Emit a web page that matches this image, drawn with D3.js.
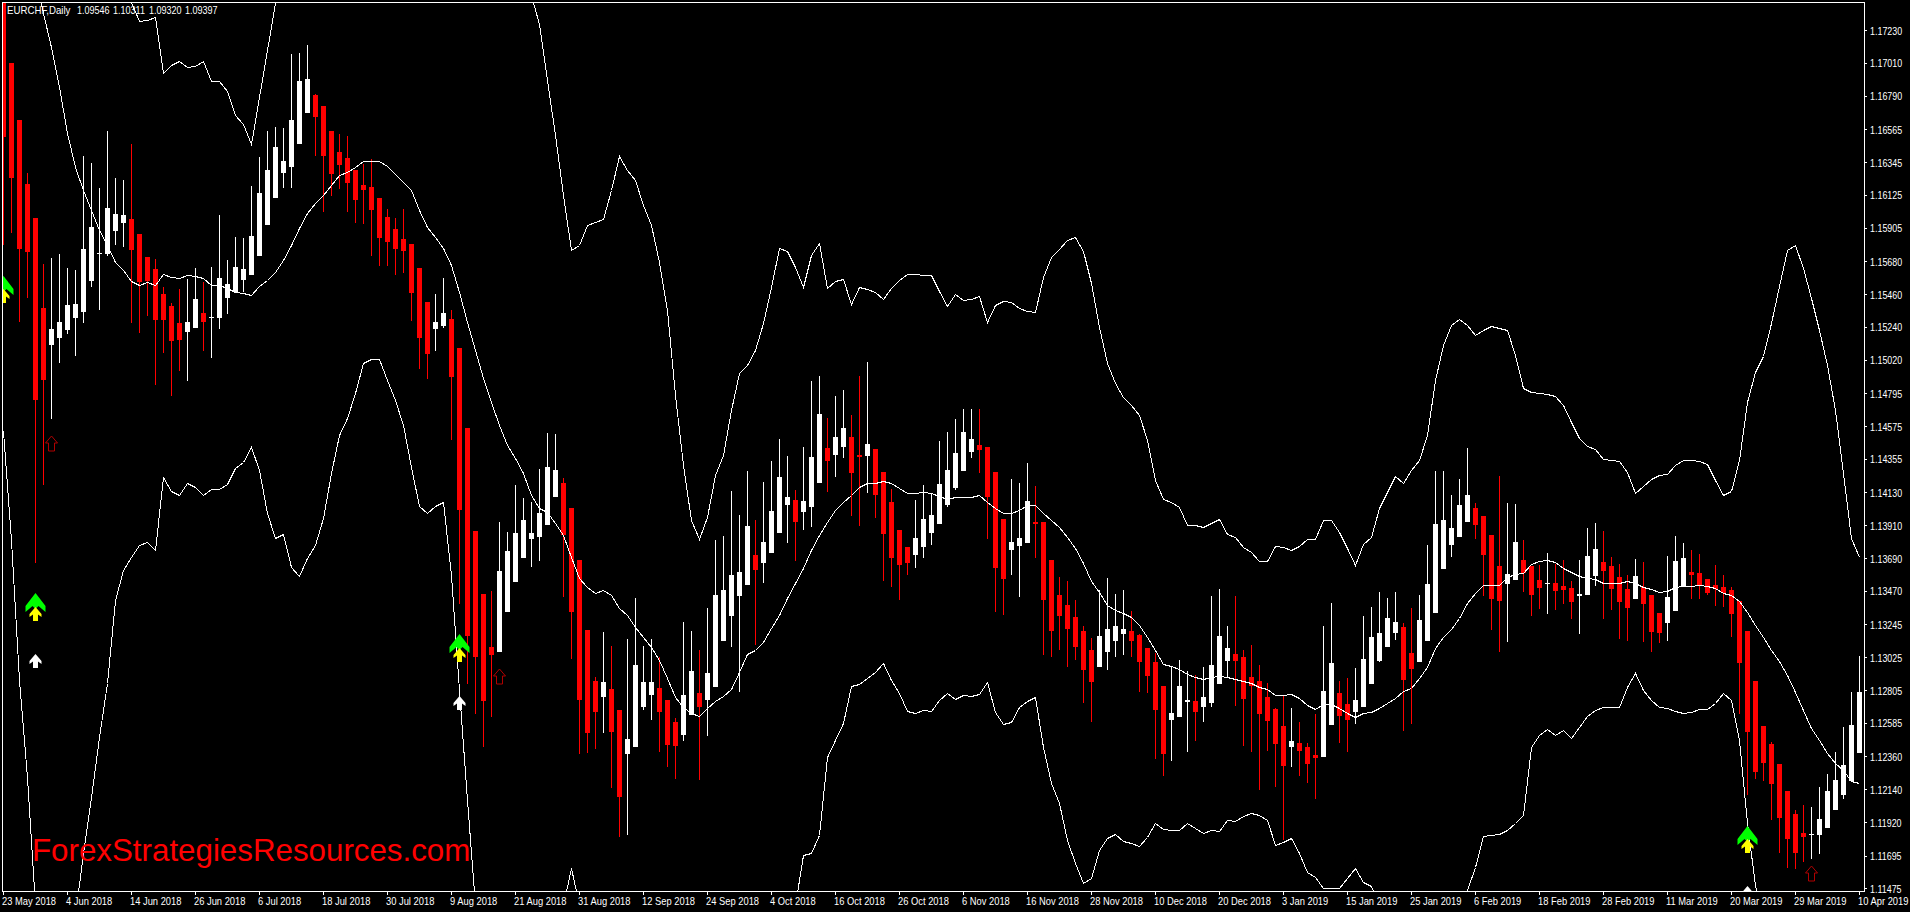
<!DOCTYPE html>
<html>
<head>
<meta charset="utf-8">
<title>EURCHF,Daily</title>
<script src="https://cdn.jsdelivr.net/npm/d3@7"></script>
<style>
    html, body { margin: 0; padding: 0; background: #000; overflow: hidden; }
    svg { display: block; }
    text { font-family: "Liberation Sans", sans-serif; font-size: 11px; fill: #fff; }
</style>
</head>
<body>
<div id="chart"></div>
<script>
// candles, one value per daily bar
const highs = [
    1.17567,1.17011,1.16629,1.16273,1.15972,1.15663,1.15703,1.15730,1.15636,1.15623,
    1.16387,1.16340,1.16173,1.16555,1.16240,1.16226,1.16468,1.15864,1.15710,1.15697,
    1.15509,1.15402,1.15496,1.15563,1.15636,1.15542,1.15643,1.15992,1.15690,1.15844,
    1.15837,1.16186,1.16380,1.16555,1.16582,1.16575,1.17071,1.17078,1.17131,1.16803,
    1.16722,1.16555,1.16535,1.16521,1.16293,1.16334,1.16367,1.16106,1.16032,1.15972,
    1.16032,1.15797,1.15636,1.15408,1.15462,1.15569,1.15355,1.15100,1.14564,1.13873,
    1.13451,1.13471,1.13934,1.13867,1.14182,1.14094,1.14068,1.14289,1.14530,1.14523,
    1.14228,1.14027,1.13679,1.13209,1.12894,1.13196,1.13102,1.12673,1.13149,1.13424,
    1.13102,1.13149,1.13029,1.12740,1.12620,1.13263,1.13203,1.13075,1.13357,1.13813,
    1.13840,1.14141,1.13980,1.14275,1.13947,1.14202,1.14342,1.14490,1.14376,1.14148,
    1.14436,1.14879,1.14912,1.14631,1.14778,1.14818,1.14651,1.14912,1.15006,1.14423,
    1.14269,1.14155,1.13880,1.13766,1.14081,1.14182,1.14128,1.14477,1.14537,1.14624,
    1.14691,1.14691,1.14691,1.14436,1.14269,1.13954,1.14222,1.14195,1.14329,1.14175,
    1.13934,1.13679,1.13565,1.13538,1.13411,1.13236,1.13156,1.13478,1.13558,1.13451,
    1.13478,1.13337,1.13183,1.13089,1.13055,1.12834,1.12968,1.13008,1.12935,1.12908,
    1.12961,1.13437,1.13484,1.13236,1.13437,1.13075,1.13109,1.12975,1.12854,1.12686,
    1.12774,1.12686,1.12593,1.12452,1.12646,1.13236,1.13390,1.12868,1.12888,1.12955,
    1.13303,1.13364,1.13464,1.13424,1.13464,1.13256,1.13357,1.13444,1.13779,1.14275,
    1.14275,1.14115,1.14222,1.14430,1.14061,1.13974,1.13846,1.14242,1.14061,1.14054,
    1.13813,1.13639,1.13645,1.13726,1.13652,1.13679,1.13538,1.13679,1.13893,1.13927,
    1.13873,1.13699,1.13652,1.13578,1.13685,1.13665,1.13444,1.13323,1.13706,1.13840,
    1.13793,1.13746,1.13719,1.13551,1.13645,1.13578,1.13498,1.13404,1.13203,1.12868,
    1.12566,1.12459,1.12311,1.12130,1.12003,1.12036,1.12023,1.12157,1.12244,1.12392,
    1.12559,1.12794,1.13035
];
const opens = [
    1.17500,1.17011,1.16629,1.16199,1.15972,1.15368,1.15120,1.15167,1.15221,1.15301,
    1.15341,1.15549,1.15730,1.15730,1.15884,1.15938,1.15965,1.15864,1.15710,1.15630,
    1.15462,1.15382,1.15268,1.15207,1.15234,1.15335,1.15301,1.15301,1.15435,1.15475,
    1.15556,1.15589,1.15717,1.15925,1.16106,1.16273,1.16313,1.16468,1.16675,1.16796,
    1.16722,1.16555,1.16414,1.16374,1.16293,1.16193,1.16179,1.16106,1.15978,1.15898,
    1.15831,1.15797,1.15636,1.15408,1.15227,1.15248,1.15294,1.15100,1.14564,1.13873,
    1.13451,1.13096,1.13062,1.13330,1.13531,1.13692,1.13820,1.13833,1.13913,1.14101,
    1.14195,1.14027,1.13679,1.13209,1.12868,1.12760,1.12814,1.12673,1.12378,1.12425,
    1.12693,1.12774,1.12821,1.12740,1.12593,1.12506,1.12640,1.12787,1.12740,1.12827,
    1.13136,1.13303,1.13437,1.13511,1.13712,1.13659,1.13726,1.13860,1.14047,1.14081,
    1.14001,1.14034,1.14195,1.14430,1.14383,1.14436,1.14503,1.14383,1.14376,1.14423,
    1.14269,1.14068,1.13880,1.13766,1.13712,1.13766,1.13860,1.13920,1.14047,1.14161,
    1.14275,1.14403,1.14450,1.14436,1.14269,1.13954,1.13746,1.13773,1.13793,1.13934,
    1.13934,1.13679,1.13444,1.13377,1.13297,1.13203,1.13075,1.12961,1.13062,1.13136,
    1.13183,1.13203,1.13176,1.13089,1.12995,1.12834,1.12606,1.12626,1.12727,1.12733,
    1.12693,1.12720,1.12847,1.13002,1.13049,1.13029,1.12894,1.12868,1.12760,1.12680,
    1.12566,1.12425,1.12452,1.12425,1.12371,1.12358,1.12573,1.12787,1.12713,1.12660,
    1.12693,1.12847,1.13002,1.13096,1.13189,1.13230,1.13055,1.12995,1.13136,1.13323,
    1.13618,1.13779,1.13833,1.13934,1.14027,1.13974,1.13846,1.13639,1.13518,1.13545,
    1.13679,1.13639,1.13545,1.13518,1.13525,1.13504,1.13491,1.13437,1.13444,1.13571,
    1.13665,1.13639,1.13565,1.13484,1.13417,1.13498,1.13444,1.13323,1.13256,1.13337,
    1.13498,1.13598,1.13592,1.13551,1.13511,1.13498,1.13478,1.13404,1.13203,1.12868,
    1.12566,1.12445,1.12311,1.12130,1.11976,1.11849,1.11835,1.11835,1.11882,1.12003,
    1.12103,1.12197,1.12385
];
const closes = [
    1.16515,1.16240,1.15764,1.15744,1.14751,1.14885,1.15227,1.15274,1.15388,1.15395,
    1.15764,1.15911,1.15737,1.16039,1.15998,1.15992,1.15757,1.15542,1.15549,1.15288,
    1.15288,1.15147,1.15154,1.15274,1.15429,1.15274,1.15308,1.15569,1.15529,1.15643,
    1.15630,1.15851,1.16139,1.16293,1.16448,1.16354,1.16629,1.16890,1.16903,1.16649,
    1.16387,1.16266,1.16327,1.16206,1.16092,1.16159,1.16025,1.15837,1.15811,1.15764,
    1.15750,1.15469,1.15167,1.15060,1.15274,1.15335,1.14906,1.14014,1.13169,1.13029,
    1.12733,1.13042,1.13605,1.13739,1.13860,1.13947,1.13860,1.13994,1.14302,1.14282,
    1.13846,1.13330,1.12740,1.12519,1.12660,1.12861,1.12526,1.12090,1.12479,1.12975,
    1.12861,1.12861,1.12660,1.12439,1.12432,1.12774,1.12935,1.12693,1.12921,1.13444,
    1.13478,1.13578,1.13598,1.13907,1.13612,1.13799,1.14007,1.14235,1.14101,1.13934,
    1.14074,1.14369,1.14658,1.14342,1.14503,1.14564,1.14262,1.14369,1.14456,1.14115,
    1.13853,1.13692,1.13645,1.13659,1.13826,1.13954,1.13980,1.14188,1.14282,1.14396,
    1.14537,1.14490,1.14416,1.14101,1.13625,1.13551,1.13799,1.13826,1.14074,1.13920,
    1.13411,1.13203,1.13303,1.13216,1.13096,1.12941,1.12861,1.13169,1.13216,1.13236,
    1.13216,1.13136,1.12995,1.12901,1.12673,1.12378,1.12653,1.12834,1.12740,1.12660,
    1.12760,1.12975,1.13169,1.13089,1.13002,1.12747,1.12834,1.12646,1.12599,1.12445,
    1.12298,1.12465,1.12398,1.12311,1.12351,1.12800,1.12988,1.12633,1.12606,1.12740,
    1.13015,1.13163,1.13189,1.13290,1.13263,1.12874,1.12948,1.13277,1.13518,1.13920,
    1.13947,1.13893,1.14047,1.14115,1.13913,1.13712,1.13417,1.13404,1.13585,1.13799,
    1.13592,1.13444,1.13491,1.13525,1.13471,1.13478,1.13397,1.13451,1.13706,1.13753,
    1.13605,1.13484,1.13397,1.13357,1.13571,1.13384,1.13196,1.13189,1.13431,1.13672,
    1.13692,1.13578,1.13511,1.13458,1.13484,1.13458,1.13317,1.12988,1.12526,1.12257,
    1.12318,1.12177,1.11949,1.11808,1.11715,1.11822,1.11842,1.11942,1.12130,1.12204,
    1.12304,1.12573,1.12794
];
const lows = [
    1.15791,1.15871,1.15274,1.15435,1.13659,1.14182,1.14624,1.15000,1.15194,1.15046,
    1.15268,1.15509,1.15355,1.15717,1.15791,1.15777,1.15268,1.15201,1.15315,1.14852,
    1.15067,1.14778,1.14946,1.14879,1.15234,1.15080,1.15033,1.15227,1.15328,1.15475,
    1.15475,1.15589,1.15717,1.15925,1.16106,1.16173,1.16173,1.16468,1.16675,1.16387,
    1.16012,1.16119,1.16166,1.16012,1.15938,1.15931,1.15717,1.15650,1.15650,1.15589,
    1.15603,1.15281,1.14959,1.14892,1.15080,1.15234,1.14483,1.13384,1.12847,1.12646,
    1.12425,1.12626,1.13062,1.13330,1.13531,1.13692,1.13632,1.13672,1.13913,1.14101,
    1.13431,1.13015,1.12378,1.12385,1.12412,1.12519,1.12150,1.11822,1.11835,1.12425,
    1.12673,1.12606,1.12392,1.12291,1.12211,1.12465,1.12640,1.12204,1.12499,1.12827,
    1.13136,1.13096,1.12794,1.13511,1.13109,1.13525,1.13726,1.13860,1.13793,1.13672,
    1.13880,1.13900,1.14195,1.14135,1.14235,1.14363,1.13974,1.13907,1.14128,1.13960,
    1.13538,1.13498,1.13411,1.13578,1.13625,1.13692,1.13779,1.13920,1.14034,1.14148,
    1.14275,1.14363,1.14262,1.13820,1.13330,1.13310,1.13578,1.13431,1.13793,1.13692,
    1.13042,1.13029,1.13075,1.12961,1.13008,1.12720,1.12593,1.12961,1.12941,1.13029,
    1.13042,1.13029,1.12794,1.12787,1.12345,1.12231,1.12331,1.12626,1.12392,1.12465,
    1.12593,1.12693,1.12847,1.12894,1.12700,1.12432,1.12392,1.12137,1.12398,1.12157,
    1.11802,1.12291,1.12231,1.12184,1.12077,1.12358,1.12573,1.12452,1.12392,1.12579,
    1.12693,1.12847,1.12995,1.13096,1.13142,1.12532,1.12579,1.12995,1.13136,1.13323,
    1.13618,1.13699,1.13833,1.13934,1.13820,1.13437,1.13209,1.13062,1.13129,1.13545,
    1.13464,1.13303,1.13350,1.13317,1.13344,1.13384,1.13283,1.13183,1.13444,1.13504,
    1.13283,1.13344,1.13149,1.13136,1.13417,1.13129,1.13062,1.13122,1.13136,1.13337,
    1.13498,1.13417,1.13417,1.13444,1.13370,1.13364,1.13163,1.12646,1.12103,1.12211,
    1.12197,1.11936,1.11715,1.11614,1.11607,1.11654,1.11674,1.11708,1.11882,1.12003,
    1.12077,1.12197,1.12385
];

// envelope lines, null where the line runs outside the window
const upperBand = [
    null,null,null,null,null,null,null,null,null,null,
    null,null,null,null,null,1.17567,1.17420,1.17292,1.17299,1.17319,
    1.16944,1.16997,1.17024,1.16984,1.16991,1.17024,1.16890,1.16890,1.16823,1.16662,
    1.16602,1.16468,1.16783,1.17098,1.17413,1.17701,null,null,null,null,
    null,null,null,null,null,null,null,null,null,null,
    null,null,null,null,null,null,null,null,null,null,
    null,null,null,null,null,null,1.17467,1.17272,1.16897,1.16528,
    1.16126,1.15757,1.15791,1.15925,1.15945,1.15965,1.16159,1.16387,1.16293,1.16226,
    1.16059,1.15925,1.15677,1.15355,1.14785,1.14316,1.13947,1.13820,1.13967,1.14249,
    1.14383,1.14684,1.14932,1.14986,1.15087,1.15268,1.15509,1.15770,1.15750,1.15643,
    1.15509,1.15723,1.15804,1.15502,1.15549,1.15563,1.15395,1.15509,1.15496,1.15475,
    1.15429,1.15502,1.15556,1.15596,1.15596,1.15589,1.15589,1.15482,1.15382,1.15462,
    1.15422,1.15429,1.15449,1.15274,1.15388,1.15415,1.15408,1.15368,1.15348,1.15341,
    1.15576,1.15710,1.15764,1.15824,1.15844,1.15750,1.15536,1.15241,1.15000,1.14865,
    1.14771,1.14718,1.14651,1.14483,1.14215,1.14088,1.14068,1.14034,1.13913,1.13913,
    1.13900,1.13927,1.13954,1.13853,1.13833,1.13766,1.13732,1.13672,1.13672,1.13773,
    1.13766,1.13746,1.13773,1.13820,1.13820,1.13947,1.13947,1.13867,1.13759,1.13645,
    1.13786,1.13833,1.14027,1.14135,1.14242,1.14195,1.14282,1.14349,1.14517,1.14885,
    1.15120,1.15254,1.15294,1.15254,1.15187,1.15221,1.15248,1.15234,1.15221,1.15053,
    1.14832,1.14805,1.14798,1.14792,1.14778,1.14718,1.14604,1.14497,1.14443,1.14423,
    1.14356,1.14349,1.14342,1.14269,1.14128,1.14175,1.14222,1.14249,1.14255,1.14316,
    1.14349,1.14349,1.14342,1.14322,1.14215,1.14115,1.14141,1.14349,1.14738,1.14939,
    1.15046,1.15268,1.15516,1.15757,1.15791,1.15636,1.15435,1.15221,1.14986,1.14684,
    1.14262,1.13826,1.13699
];
const middleBand = [
    null,null,null,null,1.17601,1.17346,1.17118,1.16850,1.16541,1.16313,
    1.16159,1.16025,1.15891,1.15791,1.15677,1.15623,1.15549,1.15522,1.15542,1.15522,
    1.15596,1.15576,1.15569,1.15589,1.15583,1.15569,1.15522,1.15522,1.15502,1.15475,
    1.15469,1.15455,1.15516,1.15556,1.15609,1.15690,1.15791,1.15905,1.16005,1.16072,
    1.16126,1.16193,1.16260,1.16280,1.16313,1.16354,1.16354,1.16354,1.16320,1.16266,
    1.16213,1.16159,1.16025,1.15911,1.15844,1.15770,1.15656,1.15475,1.15274,1.15087,
    1.14899,1.14738,1.14584,1.14450,1.14363,1.14262,1.14115,1.14027,1.14001,1.13927,
    1.13846,1.13699,1.13558,1.13498,1.13458,1.13478,1.13444,1.13357,1.13310,1.13230,
    1.13163,1.13096,1.13008,1.12888,1.12760,1.12693,1.12653,1.12633,1.12686,1.12733,
    1.12767,1.12814,1.12928,1.13049,1.13075,1.13129,1.13223,1.13310,1.13424,1.13525,
    1.13625,1.13746,1.13846,1.13934,1.14014,1.14068,1.14115,1.14168,1.14195,1.14195,
    1.14208,1.14195,1.14161,1.14128,1.14128,1.14135,1.14128,1.14108,1.14088,1.14101,
    1.14101,1.14101,1.14115,1.14068,1.14027,1.13994,1.13994,1.14014,1.14047,1.14047,
    1.13994,1.13947,1.13900,1.13833,1.13759,1.13659,1.13538,1.13464,1.13377,1.13344,
    1.13323,1.13297,1.13243,1.13163,1.13075,1.12982,1.12968,1.12948,1.12915,1.12894,
    1.12881,1.12894,1.12901,1.12894,1.12881,1.12868,1.12854,1.12827,1.12814,1.12774,
    1.12774,1.12780,1.12754,1.12707,1.12680,1.12713,1.12713,1.12686,1.12653,1.12626,
    1.12653,1.12660,1.12686,1.12720,1.12754,1.12800,1.12821,1.12888,1.12961,1.13089,
    1.13163,1.13216,1.13290,1.13390,1.13458,1.13511,1.13511,1.13511,1.13565,1.13585,
    1.13592,1.13652,1.13672,1.13679,1.13665,1.13625,1.13598,1.13571,1.13558,1.13551,
    1.13525,1.13525,1.13525,1.13538,1.13525,1.13498,1.13484,1.13464,1.13471,1.13498,
    1.13504,1.13504,1.13511,1.13504,1.13491,1.13458,1.13444,1.13404,1.13330,1.13243,
    1.13163,1.13075,1.13002,1.12908,1.12794,1.12673,1.12553,1.12472,1.12385,1.12318,
    1.12271,1.12197,1.12184
];
const lowerBand = [
    1.14544,1.13813,1.12874,1.12224,1.11366,null,null,null,null,1.11299,
    1.11715,1.12090,1.12492,1.12854,1.13411,1.13612,1.13699,1.13779,1.13799,1.13746,
    1.14235,1.14141,1.14115,1.14195,1.14168,1.14115,1.14155,1.14155,1.14188,1.14295,
    1.14336,1.14436,1.14282,1.13994,1.13826,1.13853,1.13632,1.13571,1.13692,1.13779,
    1.13960,1.14262,1.14517,1.14631,1.14798,1.14999,1.15026,1.15026,1.14885,1.14751,
    1.14584,1.14302,1.14041,1.13994,1.14041,1.14068,1.13578,1.12807,1.12070,1.11366,
    null,null,null,null,null,null,null,null,null,null,
    1.11366,1.11614,1.11366,null,null,null,null,null,null,null,
    null,null,null,null,null,null,null,null,null,null,
    null,null,null,null,null,null,null,null,null,1.11366,
    1.11701,1.11715,1.11835,1.12358,1.12472,1.12586,1.12834,1.12847,1.12888,1.12928,
    1.12988,1.12874,1.12787,1.12666,1.12653,1.12673,1.12666,1.12740,1.12787,1.12747,
    1.12774,1.12767,1.12780,1.12861,1.12660,1.12579,1.12593,1.12693,1.12733,1.12760,
    1.12425,1.12184,1.12050,1.11802,1.11647,1.11513,1.11547,1.11734,1.11815,1.11842,
    1.11795,1.11782,1.11761,1.11822,1.11916,1.11875,1.11869,1.11869,1.11916,1.11882,
    1.11849,1.11869,1.11862,1.11936,1.11929,1.11963,1.11983,1.11969,1.11936,1.11768,
    1.11788,1.11815,1.11715,1.11587,1.11553,1.11480,1.11480,1.11480,1.11547,1.11614,
    1.11520,1.11493,1.11366,null,null,null,null,null,null,null,
    null,null,1.11366,1.11466,1.11621,1.11829,1.11835,1.11842,1.11869,1.11916,
    1.11969,1.12425,1.12506,1.12546,1.12506,1.12539,1.12486,1.12559,1.12633,1.12673,
    1.12693,1.12693,1.12693,1.12827,1.12921,1.12807,1.12740,1.12693,1.12686,1.12666,
    1.12653,1.12660,1.12680,1.12680,1.12720,1.12787,1.12740,1.12472,1.11916,1.11500,
    1.11198,null,null,null,null,null,null,null,null,null,
    null,null,null
];

// signal arrows: bar index and the price of the arrow tip
const greenArrowBars = [0, 4, 57, 218];
const greenArrowPrices = [1.15583, 1.13458, 1.13183, 1.11895];
const yellowArrowPrices = [1.15496, 1.13364, 1.13089, 1.11808];
const whiteArrowBars = [4, 57, 218];
const whiteArrowPrices = [1.13049, 1.12767, 1.11493];
const hollowArrowBars = [6, 62, 226];
const hollowArrowPrices = [1.14510, 1.12948, 1.11627];

const priceTicks = ["1.17230","1.17010","1.16790","1.16565","1.16345","1.16125","1.15905","1.15680","1.15460",
    "1.15240","1.15020","1.14795","1.14575","1.14355","1.14130","1.13910","1.13690","1.13470","1.13245",
    "1.13025","1.12805","1.12585","1.12360","1.12140","1.11920","1.11695","1.11475"];
const dateTicks = ["23 May 2018","4 Jun 2018","14 Jun 2018","26 Jun 2018","6 Jul 2018","18 Jul 2018","30 Jul 2018",
    "9 Aug 2018","21 Aug 2018","31 Aug 2018","12 Sep 2018","24 Sep 2018","4 Oct 2018","16 Oct 2018","26 Oct 2018",
    "6 Nov 2018","16 Nov 2018","28 Nov 2018","10 Dec 2018","20 Dec 2018","3 Jan 2019","15 Jan 2019","25 Jan 2019",
    "6 Feb 2019","18 Feb 2019","28 Feb 2019","11 Mar 2019","20 Mar 2019","29 Mar 2019","10 Apr 2019"];
const headerLabels = ["EURCHF,Daily", "1.09546", "1.10311", "1.09320", "1.09397"];

const width = 1910, height = 912;
const frameLeft = 2, frameTop = 2, frameRight = 1864, frameBottom = 891;

const x = d3.scaleLinear().domain([0, closes.length - 1]).range([3.5, 1859.5]);
const y = d3.scaleLinear().domain([1.11475, 1.17230]).range([888.7, 30.3]);
const py = v => Math.round(y(v));

// the terminal font is narrower than anything installed, so squeeze the glyphs
function squeeze(selection, ratio) {
    selection.each(function () {
        this.setAttribute("textLength", this.getComputedTextLength() * ratio);
        this.setAttribute("lengthAdjust", "spacingAndGlyphs");
    });
}

const svg = d3.select("#chart").append("svg")
    .attr("width", width)
    .attr("height", height);

svg.append("rect")
    .attr("width", width)
    .attr("height", height)
    .attr("fill", "#000");

svg.append("clipPath")
    .attr("id", "plot")
    .append("rect")
    .attr("x", frameLeft + 1)
    .attr("y", frameTop + 1)
    .attr("width", frameRight - frameLeft - 1)
    .attr("height", frameBottom - frameTop - 1);

const plot = svg.append("g")
    .attr("clip-path", "url(#plot)");

// candles
const bars = d3.range(closes.length);
const candleColor = i => closes[i] >= opens[i] ? "#fff" : "#f00";

const candles = plot.append("g")
    .attr("shape-rendering", "crispEdges");

candles.selectAll("rect.wick")
    .data(bars)
    .join("rect")
    .attr("class", "wick")
    .attr("x", i => x(i) - 0.5)
    .attr("width", 1)
    .attr("y", i => py(highs[i]))
    .attr("height", i => Math.max(1, py(lows[i]) - py(highs[i])))
    .attr("fill", candleColor);

candles.selectAll("rect.body")
    .data(bars)
    .join("rect")
    .attr("class", "body")
    .attr("x", i => x(i) - 2.5)
    .attr("width", 5)
    .attr("y", i => py(Math.max(opens[i], closes[i])))
    .attr("height", i => Math.max(1, py(Math.min(opens[i], closes[i])) - py(Math.max(opens[i], closes[i]))))
    .attr("fill", candleColor);

// envelope lines
const bandLine = d3.line()
    .defined(d => d.value !== null)
    .x(d => x(d.bar))
    .y(d => py(d.value) + 0.5);

[upperBand, middleBand, lowerBand].forEach(function (band) {
    plot.append("path")
        .datum(band.map((value, bar) => ({ bar, value })))
        .attr("fill", "none")
        .attr("stroke", "#fff")
        .attr("stroke-width", 1)
        .attr("shape-rendering", "crispEdges")
        .attr("d", bandLine);
});

// arrows, shapes are drawn from the tip downwards
const chevron = "M0,0 L10,13 L10,19 L3,13 L0,16 L-3,13 L-10,19 L-10,13 Z";
const smallArrow = "M0,0 L6,7 L6,10 L2.5,7.5 L2.5,14 L-2.5,14 L-2.5,7.5 L-6,10 L-6,7 Z";
const hollowArrow = "M0,0 L6,7 L3,7 L3,15 L-3,15 L-3,7 L-6,7 Z";

function drawArrows(barList, prices, shape, fill, stroke) {
    plot.append("g").selectAll("path")
        .data(barList)
        .join("path")
        .attr("transform", (bar, n) => `translate(${x(bar)},${py(prices[n])})`)
        .attr("d", shape)
        .attr("fill", fill)
        .attr("stroke", stroke);
}

drawArrows(greenArrowBars, greenArrowPrices, chevron, "#00ff00", "none");
drawArrows(greenArrowBars, yellowArrowPrices, smallArrow, "#ffff00", "none");
drawArrows(whiteArrowBars, whiteArrowPrices, smallArrow, "#fff", "none");
drawArrows(hollowArrowBars, hollowArrowPrices, hollowArrow, "none", "#b00000");

// frame
svg.append("rect")
    .attr("x", frameLeft + 0.5)
    .attr("y", frameTop + 0.5)
    .attr("width", frameRight - frameLeft)
    .attr("height", frameBottom - frameTop)
    .attr("fill", "none")
    .attr("stroke", "#fff")
    .attr("shape-rendering", "crispEdges");

// Add Y axis
const yAxis = d3.axisRight(y)
    .tickValues(priceTicks.map(Number))
    .tickFormat((d, i) => priceTicks[i])
    .tickSize(3)
    .tickPadding(3)
    .offset(0.2);

const yAxisG = svg.append("g")
    .attr("transform", `translate(${frameRight},0)`)
    .call(yAxis);
yAxisG.select(".domain").remove();
yAxisG.selectAll("line").attr("stroke", "#fff").attr("shape-rendering", "crispEdges");
yAxisG.selectAll("text")
    .attr("dy", 0)
    .attr("y", 4)
    .attr("fill", "#fff")
    .style("font-size", "11px")
    .style("font-family", "'Liberation Sans', sans-serif")
    .call(squeeze, 0.81);

// Add X axis
const xAxis = d3.axisBottom(x)
    .tickValues(dateTicks.map((d, i) => i * 8))
    .tickFormat((d, i) => dateTicks[i])
    .tickSize(4)
    .offset(0);

const xAxisG = svg.append("g")
    .attr("transform", `translate(0,${frameBottom})`)
    .call(xAxis);
xAxisG.select(".domain").remove();
xAxisG.selectAll("line").attr("stroke", "#fff").attr("shape-rendering", "crispEdges");
xAxisG.selectAll("text")
    .attr("text-anchor", "start")
    .attr("x", -1.5)
    .attr("dy", 0)
    .attr("y", 14)
    .attr("fill", "#fff")
    .style("font-size", "11px")
    .style("font-family", "'Liberation Sans', sans-serif")
    .call(squeeze, 0.85);

// header and watermark
svg.selectAll("text.header")
    .data(headerLabels)
    .join("text")
    .attr("class", "header")
    .attr("x", (d, i) => i === 0 ? 7 : 77 + (i - 1) * 36)
    .attr("y", 14)
    .text(d => d)
    .each(function (d, i) {
        d3.select(this).call(squeeze, i === 0 ? 0.88 : 0.82);
    });

svg.append("text")
    .attr("x", 32)
    .attr("y", 861)
    .style("font-family", "'Liberation Sans', sans-serif")
    .style("font-size", "31.3px")
    .style("fill", "#f00")
    .text("ForexStrategiesResources.com");
</script>
</body>
</html>
